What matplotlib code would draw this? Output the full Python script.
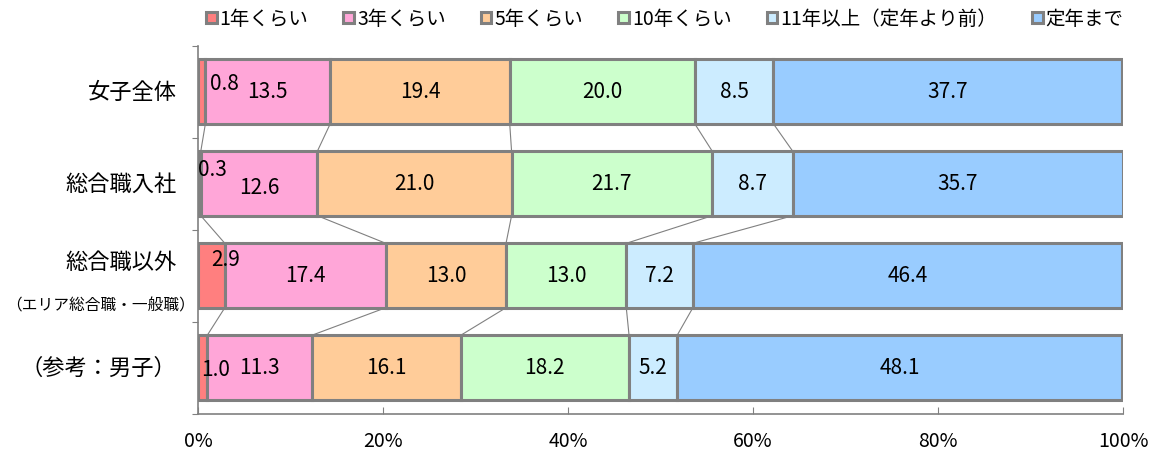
import matplotlib.pyplot as plt
import numpy as np

plt.rcParams['font.family'] = ['Noto Sans CJK JP', 'DejaVu Sans']

# data
categories = ["女子全体", "総合職入社", "総合職以外", "（参考：男子）"]
sub_labels = ["", "", "（エリア総合職・一般職）", ""]
series_names = ["1年くらい", "3年くらい", "5年くらい", "10年くらい", "11年以上（定年より前）", "定年まで"]
values = np.array([
    [0.8, 13.5, 19.4, 20.0, 8.5, 37.7],
    [0.3, 12.6, 21.0, 21.7, 8.7, 35.7],
    [2.9, 17.4, 13.0, 13.0, 7.2, 46.4],
    [1.0, 11.3, 16.1, 18.2, 5.2, 48.1],
])
colors = ["#FF7F7F", "#FFA6D8", "#FFCC99", "#CCFFCC", "#CCECFF", "#99CCFF"]

# manual nudges (pixels) for labels on thin segments
label_offsets = {(0, 0): (23, -9), (1, 0): (13, -14), (2, 0): (14, -16), (3, 0): (13, 2),
                 (1, 1): (0, 4)}

fig = plt.figure(figsize=(11.52, 4.52), dpi=100)
ax = fig.add_axes([198 / 1152, 1 - 414.5 / 452, 925 / 1152, 368 / 452])

y = np.arange(len(categories))
bar_h = 0.7
lefts = np.zeros(len(categories))
for j, name in enumerate(series_names):
    ax.barh(y, values[:, j], left=lefts, height=bar_h, color=colors[j],
            edgecolor="#808080", linewidth=2.2, label=name, zorder=2)
    for i in range(len(categories)):
        dx, dy = label_offsets.get((i, j), (0, 0))
        ax.annotate(f"{values[i, j]:.1f}", (lefts[i] + values[i, j] / 2, y[i]),
                    xytext=(dx * 0.72, -dy * 0.72), textcoords="offset points",
                    ha="center", va="center", fontsize=15, zorder=4)
    lefts = lefts + values[:, j]
    # connector lines between bars
    if j < len(series_names) - 1:
        for i in range(len(categories) - 1):
            ax.plot([lefts[i], lefts[i + 1]], [y[i] + bar_h / 2, y[i + 1] - bar_h / 2],
                    color="#808080", linewidth=0.8, zorder=1)

ax.set_xlim(0, 100)
ax.set_ylim(len(categories) - 0.5, -0.5)
ax.set_xticks(np.arange(0, 101, 20))
ax.set_xticklabels([f"{t}%" for t in range(0, 101, 20)], fontsize=14)
ax.tick_params(axis="x", direction="in", length=5, color="#808080", pad=12)
ax.set_yticks(np.arange(-0.5, len(categories), 1.0))
ax.set_yticklabels([])
ax.tick_params(axis="y", direction="out", length=4, color="#808080")
for s in ["top", "right"]:
    ax.spines[s].set_visible(False)
for s in ["left", "bottom"]:
    ax.spines[s].set_color("#808080")
    ax.spines[s].set_linewidth(1.2)

for i, cat in enumerate(categories):
    if sub_labels[i]:
        ax.text(-0.023, y[i] - 0.15, cat, transform=ax.get_yaxis_transform(),
                ha="right", va="center", fontsize=16)
        ax.text(-0.003, y[i] + 0.32, sub_labels[i], transform=ax.get_yaxis_transform(),
                ha="right", va="center", fontsize=11.3)
    else:
        ax.text(-0.023, y[i], cat, transform=ax.get_yaxis_transform(),
                ha="right", va="center", fontsize=16)

fig.legend(loc="upper center", bbox_to_anchor=(0.577, 1.005), ncol=6, frameon=False,
           fontsize=14, handlelength=0.55, handleheight=0.55, handletextpad=0.15,
           columnspacing=1.8, borderaxespad=0.2)

fig.savefig("out.png", dpi=100)
